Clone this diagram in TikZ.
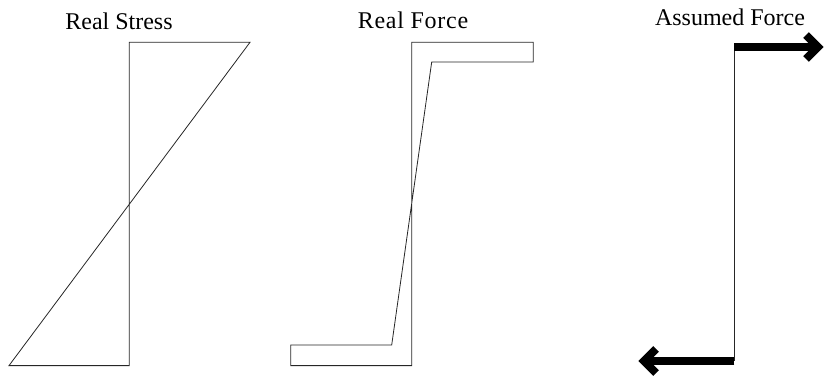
\documentclass[tikz,border=0pt]{standalone}
\usepackage{fontspec}
\setmainfont{Liberation Serif}
\begin{document}
\begin{tikzpicture}[x=1pt,y=-1pt,
  title/.style={anchor=base,inner sep=0pt,font=\fontsize{24}{28}\selectfont},
  thin line/.style={draw=black!85,line width=0.8pt,line join=miter},
  force/.style={draw=black,line width=8pt},
  chevron/.style={draw=black,line width=8pt,line join=miter,miter limit=10}]
\useasboundingbox (0,0) rectangle (825,381);
% titles
\node[title] (t1) at (119,29) {Real Stress};
\node[title] (t2) at (413,28.5) {\addfontfeature{LetterSpace=3}Real Force};
\node[title] (t3) at (730,25) {Assumed Force};
% panel 1: real stress
\draw[thin line] (129.3,42.3) -- (250,42.3) -- (9,365.6) -- (129.3,365.6) -- cycle;
% panel 2: real force
\draw[thin line] (411.7,42.3) -- (533.3,42.3) -- (533.3,62) -- (431.7,62)
  -- (391.7,345) -- (290.7,345) -- (290.7,365.6) -- (411.7,365.6) -- cycle;
% panel 3: assumed force
\draw[thin line] (734.3,47) -- (734.3,361);
\draw[force] (734.3,47) -- (816,47);
\draw[chevron] (806,35) -- (818,47) -- (806,59);
\draw[force] (734.3,361) -- (646,361);
\draw[chevron] (656,349) -- (644,361) -- (656,373);
\end{tikzpicture}
\end{document}
